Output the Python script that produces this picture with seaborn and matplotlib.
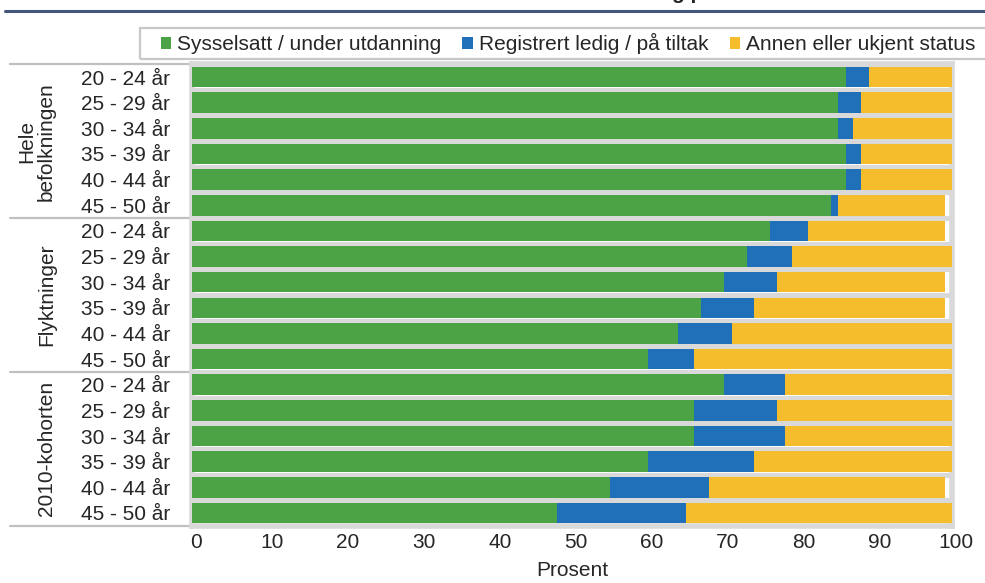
import matplotlib
matplotlib.use("Agg")
import matplotlib.pyplot as plt
import matplotlib.transforms as mtransforms
from matplotlib.patches import Patch, Rectangle
from matplotlib.lines import Line2D
import seaborn as sns
import pandas as pd

# ---- data ----
groups = ["Hele\nbefolkningen", "Flyktninger", "2010-kohorten"]
ages = ["20 - 24 år", "25 - 29 år", "30 - 34 år", "35 - 39 år", "40 - 44 år", "45 - 50 år"]
series = ["Sysselsatt / under utdanning", "Registrert ledig / på tiltak", "Annen eller ukjent status"]

sysselsatt = [86, 85, 85, 86, 86, 84,
              76, 73, 70, 67, 64, 60,
              70, 66, 66, 60, 55, 48]
ledig = [3, 3, 2, 2, 2, 1,
         5, 6, 7, 7, 7, 6,
         8, 11, 12, 14, 13, 17]
annen = [11, 13, 13, 12, 13, 14,
         18, 21, 22, 25, 29, 34,
         22, 23, 22, 26, 31, 35]

colors = ["#4ba346", "#1f70b8", "#f5bd2c"]
grid_grey = "#d9d9d9"

rows = []
i = 0
for g in groups:
    for a in ages:
        rows.append({"rid": f"{g}|{a}", "group": g, "age": a,
                     "s": sysselsatt[i], "l": ledig[i], "a": annen[i]})
        i += 1
df = pd.DataFrame(rows)
df["c1"] = df["s"]
df["c2"] = df["s"] + df["l"]
df["c3"] = df["s"] + df["l"] + df["a"]

sns.set_style("white")
plt.rcParams["font.family"] = ["Liberation Sans", "DejaVu Sans"]
FS = 15

W, H = 985, 583
fig = plt.figure(figsize=(W / 100, H / 100), dpi=100)
x0, x1 = 191.7, 952.2
ytop, ybot = 64.2, 525.8
ax = fig.add_axes([x0 / W, 1 - ybot / H, (x1 - x0) / W, (ybot - ytop) / H])

order = list(df["rid"])
for col, c in zip(["c3", "c2", "c1"], colors[::-1]):
    sns.barplot(data=df, x=col, y="rid", order=order, color=c, orient="h",
                width=0.8, saturation=1, linewidth=0, ax=ax, zorder=3)

ax.set_xlim(0, 100)
ax.set_ylim(17.5, -0.5)
ax.set_xticks(range(0, 101, 10))
ax.set_yticks(range(len(order)))
ax.set_yticklabels(list(df["age"]))
ax.tick_params(axis="y", length=0, pad=15.5, labelsize=FS)
ax.tick_params(axis="x", length=0, pad=5, labelsize=FS)
shift = mtransforms.ScaledTranslation(4 / 100, 0, fig.dpi_scale_trans)
for lbl in ax.get_xticklabels():
    lbl.set_transform(lbl.get_transform() + shift)
ax.set_ylabel("")
ax.set_xlabel("Prosent", fontsize=FS, labelpad=7)

for k in range(19):
    ax.axhline(k - 0.5, color=grid_grey, lw=3.7, zorder=2)
for sp in ax.spines.values():
    sp.set_color(grid_grey)
    sp.set_linewidth(4.0)
    sp.set_zorder(2.5)

trans = mtransforms.blended_transform_factory(ax.transAxes, ax.transData)
xl = (10 - x0) / (x1 - x0)
for yb in [-0.5, 5.5, 11.5, 17.5]:
    ax.plot([xl, 0], [yb, yb], transform=trans, clip_on=False,
            color="#c0c0c0", lw=1.6, zorder=1)

xg = (56 - x0) / (x1 - x0)
for gi, g in enumerate(groups):
    ax.text(xg, gi * 6 + 2.5, g, transform=trans, rotation=90,
            ha="right", va="center", multialignment="center",
            fontsize=FS, linespacing=1.05)

# legend box + legend
fig.add_artist(Rectangle((140 / W, 1 - 59.3 / H), (W + 5 - 140) / W, 31 / H,
                         transform=fig.transFigure, fill=False,
                         edgecolor="#c8c8c8", lw=1.6))
handles = [Patch(facecolor=c, edgecolor="none") for c in colors]
fig.legend(handles, series, loc="center left",
           bbox_to_anchor=(160.7 / W, 1 - 43.5 / H), ncol=3, frameon=False,
           fontsize=FS, borderpad=0, borderaxespad=0, handlelength=0.5,
           handleheight=0.5, handletextpad=0.3, columnspacing=1.0)

# title remnant (cut off at the top edge, as in the reference) and top rule
fig.add_artist(Line2D([5 / W, 1], [1 - 10.7 / H, 1 - 10.7 / H],
                      transform=fig.transFigure, color="#44587c", lw=2.2))
fig.text(672 / W, 1 + 1.0 / H, "g p", ha="left", va="baseline",
         fontsize=FS, fontweight="bold")

fig.savefig("out.png", dpi=100)
